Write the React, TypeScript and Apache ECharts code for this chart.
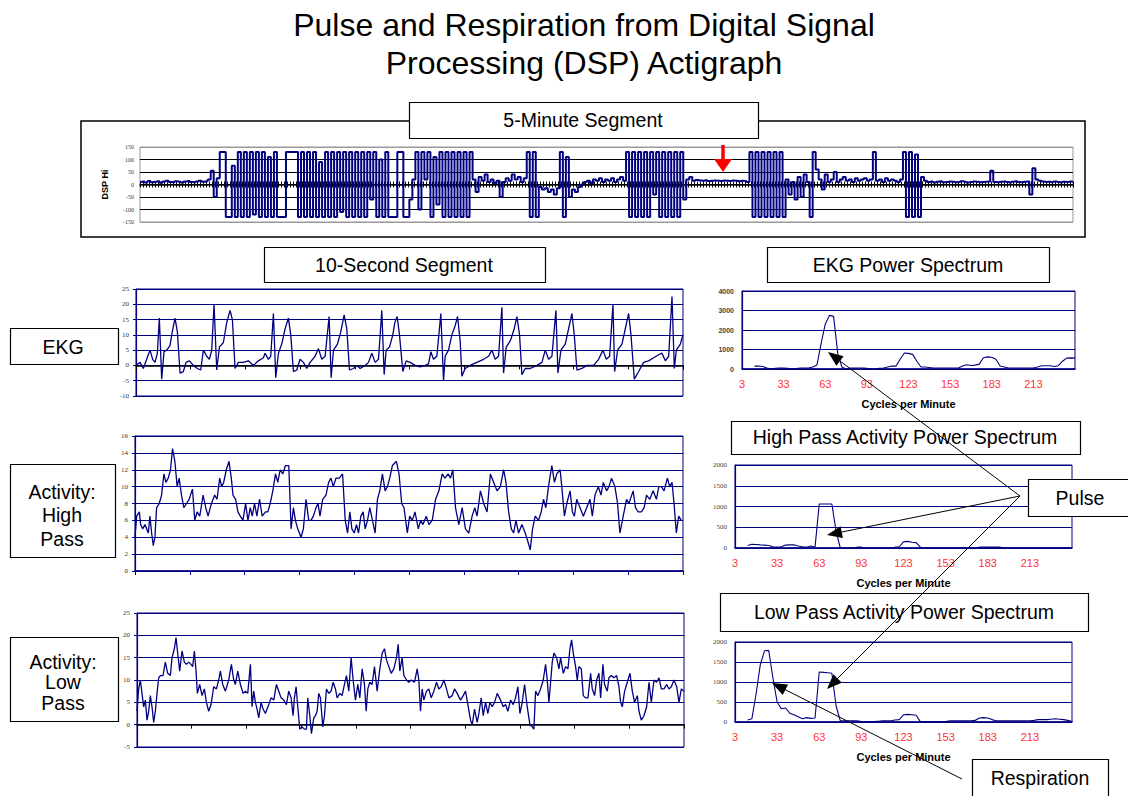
import React, { useEffect, useRef } from 'react';
import * as echarts from 'echarts';

// ---------- DATA ----------
// 5-minute segment, DSP Hi (one value per ~1/310 of the segment)
const TOP_DSP_HI = [
  10, 12, 8, 14, 9, 11, 13, 7, 12, 15, 10, 9, 13, 11, 8, 12, 14, 10, 9, 12, 15, 11, 13,
  20, 55, -50, 25,
  130, 130, -130, -130, 75, -130,
  130, -130, 130, -130, 130, -120, 130, -130, 130,
  -130, 110, -130, 130,
  -130, -130, -130,
  130, 130, 130, 130,
  -130,
  130, -130, 130, -130, 130, -130, 90, -130, 130, -130, 130, -130, 130, -110, 130, -130, 130, -130, 130, -130, 130, -130,
  130, -60, 130, -130, 100, -130, 130, -130,
  -130, -130, 130, 130, -130, -130, -60, 20,
  130, -100, 130, 20, 130, -130, 110, -80, 130, -130, 130, -130, 130, -130, 130, -130, 130, -130, 130,
  20, -30, 30, 15, 40, 10, 20, 5, 15, -50, 10, 25, 15, 40, 20, 30, 10, 25,
  130, -130, 130,
  -130, -10, -20, -15, -30, -20, -40, -15,
  130, -130, 110,
  -50, -20, -30, -10, 0, 10, 15, 5, 20, 15, 25, 10, 20, 15, 25, 10, 20, 30, 15,
  130, -130, 130, -130, 130, -130, 130, -130, 130, -40, 130, -130, 130, -130, 130, -130, 130, -130, 130, -60,
  20, 30, 15, 18, 16, 15, 17, 14, 15, 16, 15, 14, 16, 15, 14, 16, 15, 13, 15, 14, 10,
  130, -130, 130, -130, 130, -130, 130, -130, 130, -130, 130, -130,
  20, -40, 10, -60, 30, -50, 40, 10, -130,
  130, 60, 20, -20, 40, 10, 20, 50, 10, 20, 30, 15, 20, 10, 25, 15, 20, 25, 15, 20, 130, 15, 20, 10, 25, 15, 20, 15, 10, 20,
  130, -130, 130, -130, 120, -130, 30,
  15, 10, 12, 8, 11, 13, 9, 10, 12, 11, 9, 10, 13, 11, 8, 10, 12, 11, 9, 10,
  11, 12, 55, 10, 9, 11, 12, 10, 8, 11, 13, 10, 9, 11, 12, -40, 65, 20, 15, 12,
  10, 11, 9, 12, 10, 8, 11, 10, 12, 11,
];

// 10-second segment, EKG: [sample position (0..1640 = 10 s), value]
const EKG_POINTS = [
  [0, 0], [12, 1], [22, -1], [32, 2], [42, 5], [50, 2], [57, 1], [64, 4], [70, 15.5], [77, -4.5],
  [84, 4.5], [92, 5], [102, 6.5], [107, 10], [117, 15.5], [124, 11], [132, -2.5], [142, -2], [150, 1], [160, 1.5],
  [172, 0], [184, -1], [194, -1.5], [202, 5], [212, 3], [220, 2], [227, 5], [234, 20], [242, -1.5], [250, 6],
  [262, 7.5], [272, 14], [282, 18], [289, 15], [297, -1], [307, 1], [322, 1], [337, 1.5], [352, 0], [367, 1.5],
  [382, 2.5], [387, 4], [397, 2], [404, 3], [412, 17], [419, -4], [427, 4], [437, 7], [447, 12], [457, 15.5],
  [464, 10], [472, -2], [482, -1.5], [492, 2], [502, 1], [512, -1], [522, 1], [537, 3], [547, 5.5], [557, 2],
  [567, 3], [579, 16], [585, -4], [592, 5], [604, 7], [614, 11], [624, 16.5], [632, 12], [640, -1.5], [652, -1],
  [662, 0], [672, -1], [687, 0], [697, 1], [707, 4], [717, 1], [727, 2], [737, 18], [744, -3], [750, 5],
  [760, 6], [770, 10], [776, 14], [783, 16], [790, 10], [800, -2], [810, 1.5], [822, 1], [837, 0], [852, -0.5],
  [867, 0], [877, 0.5], [884, 4.5], [892, 2], [902, 3], [914, 17], [922, -5], [927, 3], [937, 5], [947, 10],
  [957, 13], [964, 16], [972, 8], [977, -3.5], [987, -1], [1002, 0], [1022, 1], [1042, 2], [1057, 3], [1067, 5],
  [1077, 2], [1087, 3], [1097, 19], [1102, -2.5], [1110, 6], [1122, 8], [1134, 12], [1142, 16], [1150, 10], [1157, -3],
  [1167, -1], [1182, -1], [1202, 0], [1217, 1], [1227, 5], [1237, 2], [1247, 3], [1259, 18], [1265, -2.5], [1274, 5],
  [1287, 7], [1297, 12], [1307, 17], [1314, 10], [1322, -1.5], [1337, -1], [1352, 0], [1372, 0], [1387, 2], [1400, 5],
  [1410, 2], [1420, 3], [1430, 20], [1435, -2], [1444, 5], [1457, 7], [1467, 12], [1477, 17], [1484, 10], [1494, -4.5],
  [1507, -2], [1522, 1], [1537, 1.5], [1552, 2.5], [1567, 3.5], [1577, 4], [1587, 1.5], [1597, 3], [1607, 22.5], [1614, -1],
  [1620, 5], [1632, 7], [1640, 10],
];

// Activity high pass: [sample position (0..1650 = 10 s), value]
const HIGH_PASS_POINTS = [
  [0, 4], [5, 6.5], [13, 7], [17, 5.5], [23, 5], [30, 5.5], [35, 5], [40, 4.5], [45, 6.5], [50, 4.5],
  [55, 3], [60, 4], [65, 7.5], [73, 8], [80, 9], [87, 11.5], [93, 10.5], [100, 11], [107, 12], [113, 14.5],
  [120, 13], [127, 10], [133, 11], [140, 9], [147, 7.5], [155, 8], [163, 8.5], [173, 9.7], [180, 6], [187, 7],
  [195, 6.5], [205, 9], [213, 7.5], [220, 6.5], [230, 8], [240, 9], [247, 8.5], [255, 11], [261, 10], [267, 10.5],
  [275, 12], [283, 13], [290, 11], [295, 9], [303, 8.5], [310, 7], [317, 6.5], [325, 6], [333, 8], [340, 6],
  [347, 7.5], [353, 6.5], [360, 8], [367, 6.5], [375, 8.5], [383, 6.5], [393, 7], [400, 7], [407, 8], [415, 9.5],
  [423, 11.5], [430, 10.5], [437, 12], [445, 11.5], [453, 12.5], [463, 12.5], [470, 5], [477, 7.5], [483, 6], [490, 5],
  [500, 4], [507, 5], [515, 8.5], [523, 6], [530, 6], [537, 6.5], [545, 7.5], [551, 8], [557, 6.5], [565, 8.5],
  [575, 9], [583, 10.5], [590, 11], [597, 10], [605, 11], [615, 11], [625, 11.5], [633, 6], [640, 4.5], [647, 7],
  [653, 5], [660, 4.5], [667, 5.5], [673, 4.5], [680, 6.5], [687, 7], [693, 5], [700, 6], [707, 7.5], [715, 6],
  [723, 4.5], [730, 8.5], [737, 9.5], [745, 11.5], [753, 9.5], [760, 10], [767, 11], [775, 12.5], [787, 13], [795, 11.5],
  [803, 8], [810, 7.5], [820, 4.5], [827, 6.5], [835, 6], [843, 7], [853, 5], [860, 6], [867, 5.5], [877, 6.5],
  [885, 5.5], [895, 6], [905, 8.5], [915, 9.5], [925, 11.5], [933, 11], [943, 11.5], [950, 11], [957, 12], [965, 7.5],
  [975, 5.5], [985, 7.5], [995, 5], [1005, 4.5], [1015, 6.5], [1023, 7.5], [1030, 6.5], [1040, 9.5], [1050, 8], [1060, 7],
  [1070, 11.5], [1080, 10.5], [1090, 9.5], [1100, 10], [1110, 12], [1117, 10.5], [1125, 7], [1133, 5], [1140, 4.5], [1147, 6],
  [1155, 4.5], [1165, 5.5], [1175, 4.5], [1183, 3.5], [1190, 2.5], [1197, 5], [1205, 6.5], [1215, 6], [1223, 7], [1230, 8.5],
  [1237, 7.5], [1245, 10], [1255, 12.5], [1263, 10.5], [1270, 11.5], [1280, 12], [1285, 10], [1293, 6.5], [1300, 8], [1310, 9.5],
  [1317, 7], [1323, 6.5], [1330, 8.5], [1340, 7.5], [1350, 6.5], [1360, 7.5], [1370, 8.5], [1377, 6.5], [1385, 9], [1395, 10],
  [1403, 9], [1410, 10.5], [1420, 9.5], [1427, 10], [1435, 11], [1445, 10], [1453, 8], [1460, 4.5], [1470, 6.5], [1480, 8.5],
  [1487, 8], [1500, 9.5], [1507, 7.5], [1515, 7], [1525, 7], [1533, 7.5], [1540, 9], [1550, 8.5], [1560, 9.5], [1570, 8.5],
  [1577, 10], [1585, 10], [1593, 9.5], [1603, 11], [1610, 10], [1617, 10.5], [1623, 8], [1630, 4.5], [1637, 6.5], [1645, 6],
];

// Activity low pass: [sample position (0..1640 = 10 s), value]
const LOW_PASS_POINTS = [
  [0, 3], [5, 8], [10, 10], [15, 7], [20, 4], [25, 5.5], [30, 1], [35, 3], [40, 6.5], [45, 4],
  [50, 0.5], [55, 3], [60, 7], [65, 10.5], [70, 11], [78, 11], [85, 14], [92, 11.5], [100, 11], [105, 15],
  [112, 17], [117, 19.5], [122, 16], [128, 12], [135, 16.5], [142, 14], [148, 13.5], [155, 14], [162, 13.5], [167, 13],
  [172, 16.5], [177, 12], [181, 7], [188, 9], [195, 6.5], [202, 8], [208, 5], [215, 3], [222, 4.5], [230, 8.5],
  [238, 8], [245, 10], [250, 12], [257, 9], [265, 7.5], [275, 10], [283, 13.5], [290, 10], [295, 9], [302, 12],
  [310, 9], [318, 7], [325, 7.5], [332, 7], [340, 13.5], [345, 4], [350, 7.5], [355, 5], [360, 3.5], [365, 1.5],
  [372, 5], [378, 3.5], [385, 2.5], [395, 4.5], [402, 6], [410, 5.5], [418, 9], [425, 7.5], [432, 6], [440, 5.5],
  [448, 4.5], [455, 7.5], [462, 6], [468, 2], [472, 6], [477, 8.5], [482, 4], [488, -1], [495, -0.5], [502, -1],
  [508, -1], [512, 6], [518, 2], [523, -2], [530, 1.5], [535, 2], [540, 3], [545, 7], [550, 6], [557, -0.5],
  [562, 2], [568, 8], [575, 7], [582, 7.5], [588, 9.5], [595, 8], [600, 6], [608, 7], [615, 6.5], [622, 9],
  [628, 11], [635, 7.5], [642, 15], [648, 10], [655, 5.5], [662, 9], [668, 6], [675, 12.5], [682, 9], [687, 3],
  [692, 8], [698, 9.5], [705, 9], [712, 13], [720, 7.5], [728, 12.5], [735, 16], [742, 17], [748, 14.5], [755, 13],
  [762, 11.5], [770, 12.5], [778, 15], [783, 18], [788, 12], [795, 15], [800, 11], [808, 10], [815, 9.5], [822, 10],
  [832, 9.5], [840, 12.5], [845, 10], [850, 3], [855, 8], [860, 5.5], [868, 7.5], [875, 8], [882, 6], [890, 7.5],
  [898, 9.5], [905, 8], [912, 8.5], [920, 10], [928, 8], [935, 6], [945, 6.5], [952, 8], [960, 7], [970, 5.5],
  [978, 6.5], [985, 7.5], [992, 4.5], [1000, 1], [1005, 0], [1012, 3.5], [1020, 0.5], [1025, 2.5], [1032, 6], [1038, 2],
  [1045, 5], [1052, 2.5], [1058, 5], [1065, 4], [1072, 5], [1080, 7], [1090, 5.5], [1098, 4], [1105, 4.5], [1112, 3],
  [1120, 5.5], [1128, 4.5], [1135, 6], [1142, 8.5], [1148, 2.5], [1155, 5], [1162, 9], [1170, 4], [1178, 0], [1185, -0.5],
  [1190, -1], [1195, 7.5], [1202, 6.5], [1210, 8], [1218, 10], [1225, 13.5], [1230, 10], [1235, 5], [1240, 9.5], [1245, 14],
  [1250, 16], [1258, 15], [1265, 12.5], [1270, 15], [1278, 11.5], [1285, 13], [1292, 12.5], [1298, 17], [1303, 19], [1308, 16],
  [1315, 13], [1320, 10], [1325, 13], [1332, 12.5], [1338, 6.5], [1345, 6], [1352, 6], [1360, 11.5], [1365, 8], [1372, 6.5],
  [1378, 10], [1385, 11.5], [1390, 6], [1397, 13.5], [1402, 9], [1410, 7.5], [1415, 10.5], [1422, 11], [1430, 10.5], [1438, 11],
  [1445, 8.5], [1450, 5], [1455, 4], [1462, 7.5], [1470, 9.5], [1478, 11.5], [1485, 7.5], [1492, 5], [1500, 6.5], [1505, 3],
  [1512, 1], [1520, 2], [1528, 4], [1535, 9.5], [1542, 5], [1550, 10], [1558, 9.5], [1565, 10.5], [1572, 8], [1580, 8],
  [1588, 9], [1595, 8], [1602, 8.5], [1610, 10], [1618, 8.5], [1625, 5], [1632, 8], [1640, 7.5],
];

// Power spectra, cycles per minute
const SPECTRUM_CPM = [
  3, 6, 9, 12, 15, 18, 21, 24, 27, 30, 33, 36, 39, 42, 45, 48, 51, 54, 57, 60,
  63, 66, 69, 72, 75, 78, 81, 84, 87, 90, 93, 96, 99, 102, 105, 108, 111, 114, 117, 120,
  123, 126, 129, 132, 135, 138, 141, 144, 147, 150, 153, 156, 159, 162, 165, 168, 171, 174, 177, 180,
  183, 186, 189, 192, 195, 198, 201, 204, 207, 210, 213, 216, 219, 222, 225, 228, 231, 234, 237, 240,
  243,
];
const EKG_SPECTRUM = [
  null, null, null, 150, 150, 130, 50, 0, 30, 50,
  50, 40, 0, 20, 50, 50, 50, 100, 200, 1300,
  2300, 2750, 2700, 800, 100, 0, 50, 50, 50, 50,
  30, 0, 0, 30, 50, 100, 150, 150, 500, 820,
  800, 750, 400, 100, 100, 80, 50, 50, 50, 50,
  50, 50, 50, 150, 220, 180, 200, 250, 580, 620,
  600, 500, 150, 100, 50, 50, 50, 50, 50, 50,
  50, 100, 170, 170, 170, 130, 170, 400, 560, 570,
  560,
];
const HIGH_PASS_SPECTRUM = [
  null, null, null, 60, 90, 85, 75, 70, 60, 30,
  20, 30, 70, 75, 80, 50, 30, 20, 50, 20,
  1060, 1060, 1060, 1060, 400, 0, 0, 0, 0, 20,
  20, 0, 0, 0, 0, 0, 0, 0, 20, 30,
  150, 160, 140, 130, 20, 0, 0, 0, 0, 0,
  0, 0, 0, 0, 0, 0, 0, 0, 20, 20,
  20, 20, 20, 20, 0, 0, 0, 0, 0, 0,
  0, 0, 0, 0, 0, 0, 0, 0, 0, 0,
  0,
];
const LOW_PASS_SPECTRUM = [
  null, null, null, 50, 80, 700, 1430, 1780, 1790, 1100,
  500, 330, 350, 220, 180, 130, 80, 110, 90, 100,
  1250, 1240, 1230, 1220, 400, 30, 30, 30, 30, 30,
  10, 10, 10, 10, 20, 30, 30, 30, 50, 60,
  180, 190, 180, 170, 10, 10, 10, 10, 10, 10,
  10, 30, 30, 30, 30, 30, 30, 40, 100, 110,
  100, 60, 30, 30, 30, 30, 30, 30, 30, 30,
  30, 40, 60, 60, 60, 70, 80, 70, 60, 40,
  10,
];

// ---------- STYLE ----------
const NAVY = '#000080';
const SANS = '"Liberation Sans", Arial, Helvetica, sans-serif';
const SERIF = '"Liberation Serif", "Times New Roman", serif';
const BOX_FONT = 19.5;

function box(x: number, y: number, w: number, h: number, text: string, cx: number, cy: number, lineHeight = 22) {
  return [
    {
      type: 'rect', z: 50, silent: true,
      shape: { x: x + 0.5, y: y + 0.5, width: w, height: h },
      style: { fill: '#fff', stroke: '#000', lineWidth: 1.2 },
    },
    {
      type: 'text', z: 51, silent: true,
      style: {
        x: cx, y: cy, text, fill: '#000', fontSize: BOX_FONT, fontFamily: SANS,
        align: 'center', verticalAlign: 'middle', textAlign: 'center', textVerticalAlign: 'middle', lineHeight,
      },
    },
  ];
}

function arrow(x1: number, y1: number, x2: number, y2: number, color: string, lw: number, hl: number, hw: number) {
  const dx = x2 - x1, dy = y2 - y1;
  const len = Math.hypot(dx, dy);
  const ux = dx / len, uy = dy / len;
  const bx = x2 - ux * hl, by = y2 - uy * hl;
  const px = -uy * hw, py = ux * hw;
  return [
    { type: 'line', z: 60, silent: true, shape: { x1, y1, x2: bx + ux * 2, y2: by + uy * 2 }, style: { stroke: color, lineWidth: lw } },
    { type: 'polygon', z: 61, silent: true, shape: { points: [[x2, y2], [bx + px, by + py], [bx - px, by - py]] }, style: { fill: color } },
  ];
}

function timeXAxis(gridIndex: number, max: number, interval: number, lineColor: string) {
  return {
    gridIndex, type: 'value', min: 0, max, interval,
    axisLine: { show: true, onZero: true, lineStyle: { color: lineColor, width: 1.5 } },
    axisTick: { show: true, length: 4, lineStyle: { color: lineColor } },
    axisLabel: { show: false },
    splitLine: { show: false },
  };
}

function timeYAxis(gridIndex: number, min: number, max: number, interval: number) {
  return {
    gridIndex, type: 'value', min, max, interval,
    axisLine: { show: true, onZero: false, lineStyle: { color: NAVY, width: 1.2 } },
    axisTick: { show: true, length: 3, lineStyle: { color: NAVY } },
    axisLabel: { fontSize: 7, fontFamily: SERIF, color: '#333', margin: 7 },
    splitLine: { show: true, lineStyle: { color: NAVY, width: 1 } },
  };
}

function specXAxis(gridIndex: number) {
  return {
    gridIndex, type: 'category', data: SPECTRUM_CPM, boundaryGap: false,
    axisLine: { show: true, lineStyle: { color: NAVY, width: 1.5 } },
    axisTick: { show: false },
    axisLabel: {
      color: '#ff3333', fontSize: 11, fontFamily: SANS, margin: 9,
      interval: (index: number) => index % 10 === 0 && index < 80,
    },
    splitLine: { show: false },
    name: 'Cycles per Minute', nameLocation: 'middle', nameGap: 29,
    nameTextStyle: { fontSize: 11, fontWeight: 'bold', color: '#000', fontFamily: SANS },
  };
}

function specYAxis(gridIndex: number, max: number, interval: number, bold: boolean) {
  return {
    gridIndex, type: 'value', min: 0, max, interval,
    axisLine: { show: true, lineStyle: { color: NAVY, width: 1.2 } },
    axisTick: { show: false },
    axisLabel: {
      fontSize: 7, fontFamily: bold ? SANS : SERIF, fontWeight: bold ? 'bold' : 'normal', color: '#444', margin: 8,
      formatter: (v: number) => String(v),
    },
    splitLine: { show: true, lineStyle: { color: NAVY, width: 1 } },
  };
}

function lineSeries(xi: number, yi: number, data: any[], width: number, step?: string) {
  return {
    type: 'line', xAxisIndex: xi, yAxisIndex: yi, data,
    showSymbol: false, symbol: 'none', silent: true, connectNulls: false,
    step: step || false,
    lineStyle: { color: NAVY, width }, z: 3,
  };
}

export default function App() {
  const ref = useRef<HTMLDivElement>(null);
  useEffect(() => {
    if (!ref.current) return;
    const chart = echarts.init(ref.current, undefined, { renderer: 'svg' });
    const grids = [
      { left: 140, top: 147, width: 933, height: 75, borderColor: '#999' },
      { left: 136, top: 289, width: 547, height: 107, borderColor: NAVY },
      { left: 135, top: 436, width: 548, height: 135, borderColor: NAVY },
      { left: 137, top: 613, width: 547, height: 134, borderColor: NAVY },
      { left: 742, top: 291, width: 333, height: 78, borderColor: NAVY },
      { left: 735, top: 465, width: 337, height: 83, borderColor: NAVY },
      { left: 735, top: 642, width: 337, height: 80, borderColor: NAVY },
    ].map((g) => ({ ...g, show: true, borderWidth: 1, backgroundColor: 'transparent', containLabel: false }));

    const graphic: any[] = [
      {
        type: 'text', z: 40, silent: true,
        style: { x: 584, y: 25, text: 'Pulse and Respiration from Digital Signal', fill: '#000', fontSize: 32, fontFamily: SANS, align: 'center', verticalAlign: 'middle', textAlign: 'center', textVerticalAlign: 'middle' },
      },
      {
        type: 'text', z: 40, silent: true,
        style: { x: 584, y: 63, text: 'Processing (DSP) Actigraph', fill: '#000', fontSize: 32, fontFamily: SANS, align: 'center', verticalAlign: 'middle', textAlign: 'center', textVerticalAlign: 'middle' },
      },
      {
        type: 'rect', z: 40, silent: true,
        shape: { x: 81, y: 121, width: 1004, height: 116 },
        style: { fill: 'none', stroke: '#000', lineWidth: 1.5 },
      },
      ...box(409, 102, 349, 36, '5-Minute Segment', 583, 120),
      ...box(264, 247, 281, 35, '10-Second Segment', 404, 265),
      ...box(767, 247, 282, 35, 'EKG Power Spectrum', 908, 265),
      ...box(731, 421, 349, 33, 'High Pass Activity Power Spectrum', 905, 437),
      ...box(720, 593, 368, 38, 'Low Pass Activity Power Spectrum', 904, 612),
      ...box(10, 328, 108, 36, 'EKG', 63, 347),
      ...box(10, 464, 105, 93, 'Activity:\nHigh\nPass', 62, 515, 23.5),
      ...box(10, 637, 108, 84, 'Activity:\nLow\nPass', 63, 682, 20.5),
      ...box(1028, 479, 110, 37, 'Pulse', 1080, 498),
      ...box(972, 759, 136, 45, 'Respiration', 1040, 778),
      ...arrow(723, 145, 723, 172, '#ff0000', 3.5, 13, 9),
      ...arrow(1020, 496, 828, 352, '#000', 1, 15, 6),
      ...arrow(1020, 496, 827, 535, '#000', 1, 15, 6),
      ...arrow(1020, 496, 827, 689, '#000', 1, 15, 6),
      ...arrow(962, 779, 772, 683, '#000', 1, 15, 6),
    ];

    chart.setOption({
      animation: false,
      grid: grids,
      xAxis: [
        {
          gridIndex: 0, type: 'value', min: 0, max: 310, interval: 1,
          axisLine: { show: true, onZero: true, lineStyle: { color: '#000', width: 1.5 } },
          axisTick: { show: true, length: 3, lineStyle: { color: '#000' } },
          axisLabel: { show: false }, splitLine: { show: false },
        },
        timeXAxis(1, 1640, 164, '#000'),
        timeXAxis(2, 1650, 165, NAVY),
        timeXAxis(3, 1640, 164, '#000'),
        specXAxis(4),
        specXAxis(5),
        specXAxis(6),
        {
          gridIndex: 0, type: 'value', min: 0, max: 310, interval: 1, position: 'bottom',
          axisLine: { show: false, onZero: true, onZeroAxisIndex: 7 },
          axisTick: { show: true, inside: true, length: 3, lineStyle: { color: '#000' } },
          axisLabel: { show: false }, splitLine: { show: false },
        },
      ],
      yAxis: [
        {
          gridIndex: 0, type: 'value', min: -150, max: 150, interval: 50,
          axisLine: { show: false },
          axisTick: { show: false },
          axisLabel: { fontSize: 6, fontFamily: SERIF, color: '#333', margin: 6 },
          splitLine: { show: true, lineStyle: { color: ['#999', '#000', '#000', '#000', '#000', '#000', '#999'], width: 1 } },
          name: 'DSP Hi', nameLocation: 'middle', nameRotate: 90, nameGap: 31,
          nameTextStyle: { fontSize: 9, fontWeight: 'bold', color: '#000', fontFamily: SANS },
        },
        timeYAxis(1, -10, 25, 5),
        timeYAxis(2, 0, 16, 2),
        timeYAxis(3, -5, 25, 5),
        specYAxis(4, 4000, 1000, true),
        specYAxis(5, 2000, 500, false),
        specYAxis(6, 2000, 500, false),
        {
          gridIndex: 0, type: 'value', min: -150, max: 150, show: false,
          axisLine: { show: false }, splitLine: { show: false }, axisLabel: { show: false }, axisTick: { show: false },
        },
      ],
      series: [
        lineSeries(0, 0, TOP_DSP_HI.map((v, i) => [i, v]), 2, 'middle'),
        lineSeries(1, 1, EKG_POINTS, 1.3),
        lineSeries(2, 2, HIGH_PASS_POINTS, 1.3),
        lineSeries(3, 3, LOW_PASS_POINTS, 1.3),
        lineSeries(4, 4, EKG_SPECTRUM, 1.1),
        lineSeries(5, 5, HIGH_PASS_SPECTRUM, 1.1),
        lineSeries(6, 6, LOW_PASS_SPECTRUM, 1.1),
      ],
      graphic,
    });
    return () => chart.dispose();
  }, []);
  return (
    <div
      ref={ref}
      style={{ position: 'fixed', left: 0, top: 0, width: 1128, height: 796, background: '#fff' }}
    />
  );
}
